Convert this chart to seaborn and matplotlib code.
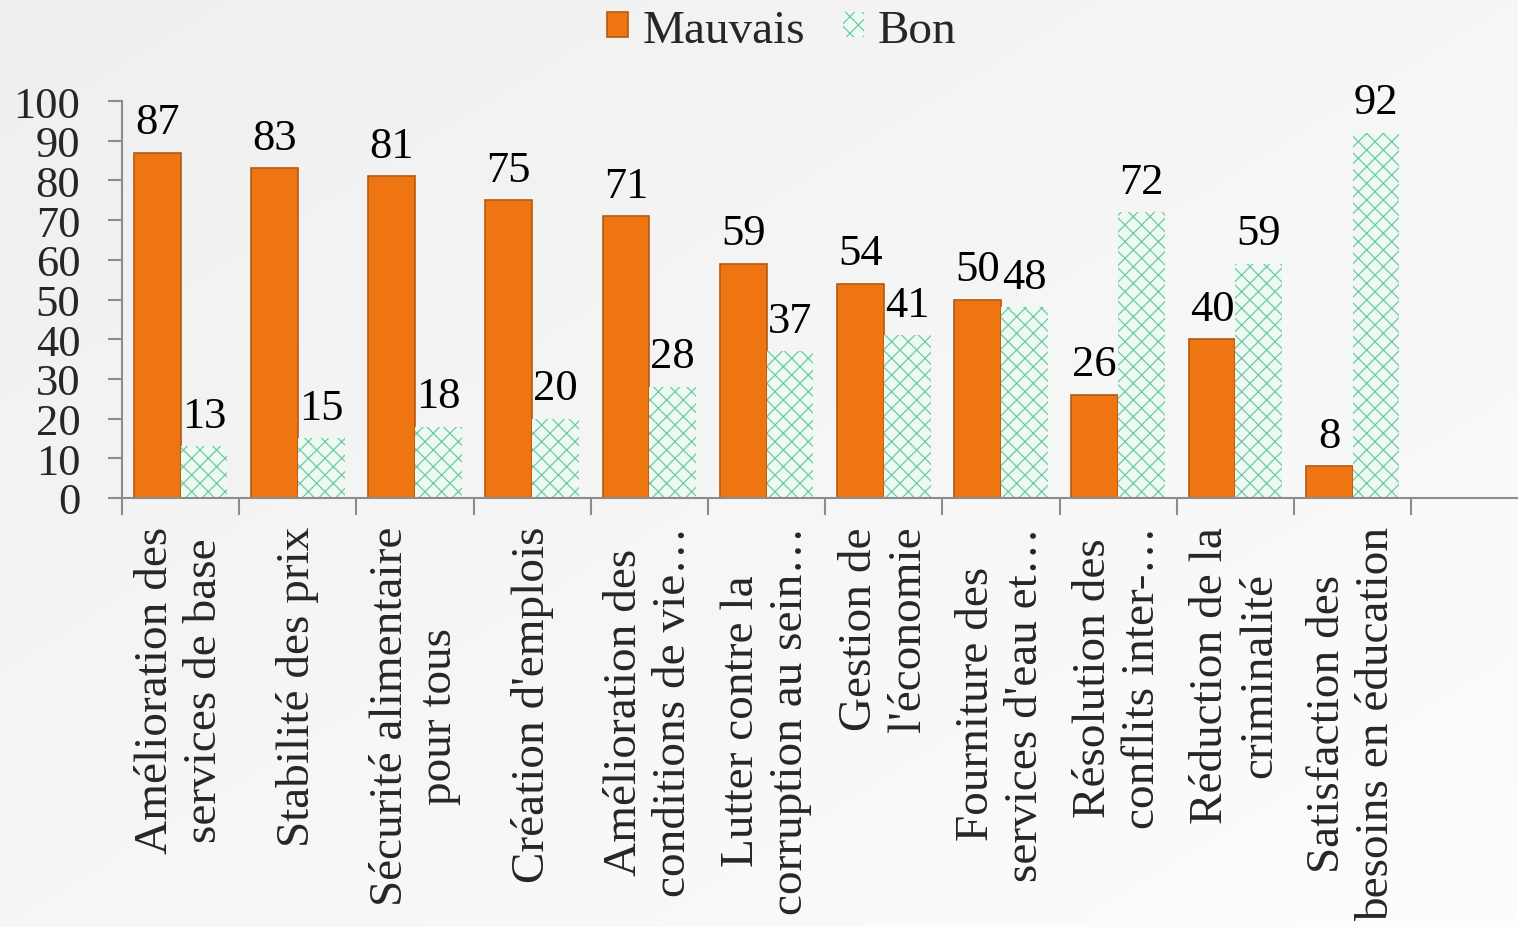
import numpy as np
import pandas as pd
import matplotlib
matplotlib.use("Agg")
import matplotlib.pyplot as plt
import seaborn as sns
from matplotlib.ticker import FixedLocator

categories = [
    "Amélioration des\nservices de base",
    "Stabilité des prix",
    "Sécurité alimentaire\npour tous",
    "Création d'emplois",
    "Amélioration des\nconditions de vie…",
    "Lutter contre la\ncorruption au sein…",
    "Gestion de\nl'économie",
    "Fourniture des\nservices d'eau et…",
    "Résolution des\nconflits inter-…",
    "Réduction de la\ncriminalité",
    "Satisfaction des\nbesoins en éducation",
]
mauvais = [87, 83, 81, 75, 71, 59, 54, 50, 26, 40, 8]
bon = [13, 15, 18, 20, 28, 37, 41, 48, 72, 59, 92]
series_names = ["Mauvais", "Bon"]
y_ticks = [0, 10, 20, 30, 40, 50, 60, 70, 80, 90, 100]

df = pd.DataFrame({
    "cat": categories * 2,
    "val": mauvais + bon,
    "serie": [series_names[0]] * len(categories) + [series_names[1]] * len(categories),
})

sns.set_theme(style="white")
plt.rcParams["font.family"] = ["Liberation Serif", "DejaVu Serif"]
plt.rcParams["hatch.linewidth"] = 0.9

fig = plt.figure(figsize=(15.18, 9.28), dpi=100)

# background gradient
bg = fig.add_axes([0, 0, 1, 1], zorder=-10)
xx, yy = np.meshgrid(np.linspace(0, 1, 200), np.linspace(0, 1, 200))
g = 0.5 * xx + 0.5 * yy
bg.imshow(g, cmap=matplotlib.colors.LinearSegmentedColormap.from_list("g", ["#efefef", "#fdfdfd"]),
          extent=[0, 1, 0, 1], aspect="auto", origin="upper")
bg.axis("off")

ax = fig.add_axes([122 / 1518, 1 - 499 / 928, 1 - 122 / 1518, (499 - 102) / 928])
ax.patch.set_alpha(0)

sns.barplot(data=df, x="cat", y="val", hue="serie",
            palette={"Mauvais": "#ef7512", "Bon": "#eef9f3"},
            width=0.8, ax=ax, legend=False, saturation=1)

orange_bars = ax.containers[0]
green_bars = ax.containers[1]
for p in orange_bars:
    p.set_edgecolor("#b35a10")
    p.set_linewidth(1.2)
for p in green_bars:
    p.set_hatch("xx")
    p.set_edgecolor("#6fcb9d")
    p.set_linewidth(0)

for cont in (orange_bars, green_bars):
    for p in cont:
        h = p.get_height()
        ax.annotate(f"{h:.0f}", (p.get_x() + p.get_width() / 2, h),
                    xytext=(0, 14), textcoords="offset points",
                    ha="center", va="baseline", fontsize=32, color="black",
                    annotation_clip=False)

ax.set_ylim(0, 100)
ax.set_xlim(-0.5, -0.5 + (1518 - 122) / 117.2)
ax.set_yticks(y_ticks)
ax.set_yticklabels([str(t) for t in y_ticks], fontsize=32)
ax.tick_params(axis="y", length=10, width=1.5, color="#8c8c8c", pad=20, left=True)

n = len(categories)
ax.set_xticks(range(n))
ax.set_xticklabels(categories, rotation=90, fontsize=34, ha="center", va="top",
                   multialignment="center")
ax.tick_params(axis="x", which="major", length=0, pad=20)
ax.xaxis.set_minor_locator(FixedLocator([i - 0.5 for i in range(n + 1)]))
ax.tick_params(axis="x", which="minor", length=12, width=1.5, color="#8c8c8c", bottom=True)

ax.set_xlabel("")
ax.set_ylabel("")
for s in ("top", "right"):
    ax.spines[s].set_visible(False)
for s in ("left", "bottom"):
    ax.spines[s].set_color("#8c8c8c")
    ax.spines[s].set_linewidth(1.5)

fig.legend(handles=[orange_bars, green_bars], labels=series_names,
           loc="upper center", bbox_to_anchor=(0.515, 1.035), ncol=2, frameon=False,
           fontsize=34, handlelength=0.45, handleheight=0.45, handletextpad=0.3,
           columnspacing=0.8)

fig.savefig("out.png", dpi=100)
